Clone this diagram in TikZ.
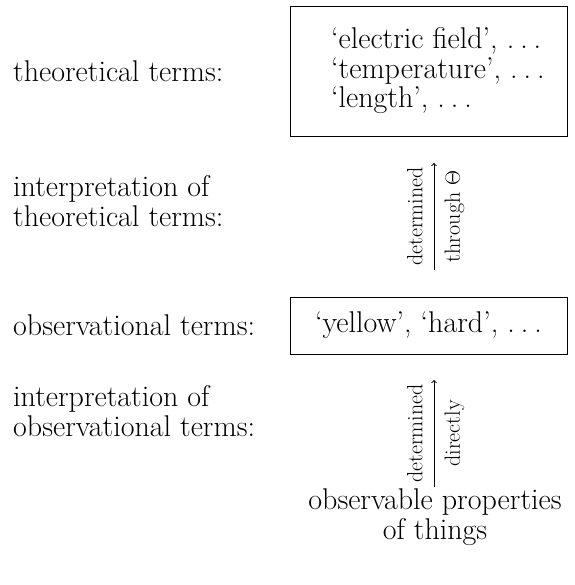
\documentclass[tikz,border=0pt]{standalone}
\newcommand\mainfs{\fontsize{30}{29.5}\selectfont}
\newcommand\labfs{\fontsize{22}{24}\selectfont}
\newcommand\mydots{.\kern0.2em.\kern0.2em.}
\tikzset{
  lbl/.style={anchor=west, align=left, inner sep=0pt, font=\mainfs},
  box/.style={draw, line width=0.8pt, minimum width=277pt},
  conn/.style={->, line width=1pt},
  rl/.style={font=\labfs, inner sep=4pt, sloped, midway},
}
\begin{document}
\begin{tikzpicture}[x=1pt,y=1pt]
\useasboundingbox (0,0) rectangle (574,-585);
% boxes
\node[box, minimum height=130pt] (tbox) at (428.5,-71) {};
\node[lbl] (ttext) at (331,-71) {`electric field', \mydots\\ `temperature', \mydots\\ `length', \mydots};
\node[box, minimum height=57pt, font=\mainfs] (bbox) at (428.5,-325.5) {`yellow', `hard', \mydots};
% left labels
\node[lbl] (l1) at (13,-71) {theoretical terms:};
\node[lbl] (l2) at (13,-201) {interpretation of\\theoretical terms:};
\node[lbl] (l3) at (13,-325) {observational terms:};
\node[lbl] (l4) at (13,-411) {interpretation of\\observational terms:};
\node[font=\mainfs, align=center, inner sep=0pt] (obs) at (435,-517) {observable properties\\of things};
% arrows
\coordinate (a1s) at (434,-270);
\coordinate (a1e) at (434,-163);
\coordinate (a2s) at (434,-487);
\coordinate (a2e) at (434,-380);
\draw[conn] (a1s) -- (a1e) node[rl, above=7pt] (d1) {determined} node[rl, below=6pt] (t1) {through $\Theta$};
\draw[conn] (a2s) -- (a2e) node[rl, above=7pt] (d2) {determined} node[rl, below=6pt] (t2) {directly};
\end{tikzpicture}
\end{document}
